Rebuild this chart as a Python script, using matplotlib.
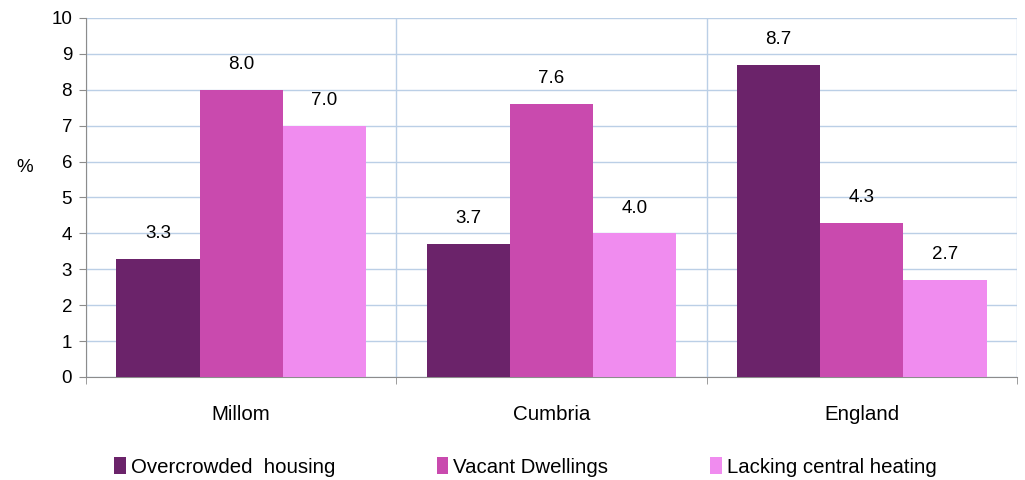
import matplotlib
matplotlib.use("Agg")
import matplotlib.pyplot as plt
import numpy as np

plt.rcParams['font.family'] = ['Liberation Sans', 'DejaVu Sans']

# data
areas = ['Millom', 'Cumbria', 'England']
series_names = ['Overcrowded  housing', 'Vacant Dwellings', 'Lacking central heating']
overcrowded = [3.3, 3.7, 8.7]
vacant = [8.0, 7.6, 4.3]
no_heating = [7.0, 4.0, 2.7]

colors = ['#6B236A', '#C94AAE', '#F08CEF']
grid_col = '#BBCFE6'
axis_col = '#8C8C8C'

fig = plt.figure(figsize=(10.25, 4.8), dpi=100)
ax = fig.add_axes([0.0839, 0.2146, 0.9083, 0.7479])

x = np.arange(len(areas))
width = 0.268
for i, (vals, name) in enumerate(zip([overcrowded, vacant, no_heating], series_names)):
    bars = ax.bar(x + (i - 1) * width, vals, width, color=colors[i], label=name, zorder=3)
    ax.bar_label(bars, labels=['%.1f' % v for v in vals], padding=12, fontsize=13.5)

ax.set_xlim(-0.5, 2.5)
ax.set_ylim(0, 10)
ax.set_yticks(range(0, 11))
ax.set_xticks(x)
ax.set_xticklabels(areas, fontsize=14.8)
ax.set_xticks([-0.5, 0.5, 1.5, 2.5], minor=True)
ax.tick_params(axis='x', which='major', length=0, pad=20.5)
ax.tick_params(axis='x', which='minor', length=5, color=axis_col)
ax.tick_params(axis='y', length=5, color=axis_col, labelsize=13.5, pad=5)

ax.grid(axis='y', color=grid_col, linewidth=1, zorder=0)
ax.grid(axis='x', which='minor', color=grid_col, linewidth=1, zorder=0)
ax.set_axisbelow(True)

for s in ['top', 'right']:
    ax.spines[s].set_visible(False)
for s in ['left', 'bottom']:
    ax.spines[s].set_color(axis_col)

ax.set_ylabel('%', rotation=0, fontsize=13.5)
ax.yaxis.set_label_coords(-0.066, 0.56)

ax.legend(loc='center', bbox_to_anchor=(0.472, -0.25), ncol=3, frameon=False,
          fontsize=14.7, handlelength=0.55, handleheight=0.95, handletextpad=0.25,
          columnspacing=5.0)

fig.savefig('out.png', dpi=100)
